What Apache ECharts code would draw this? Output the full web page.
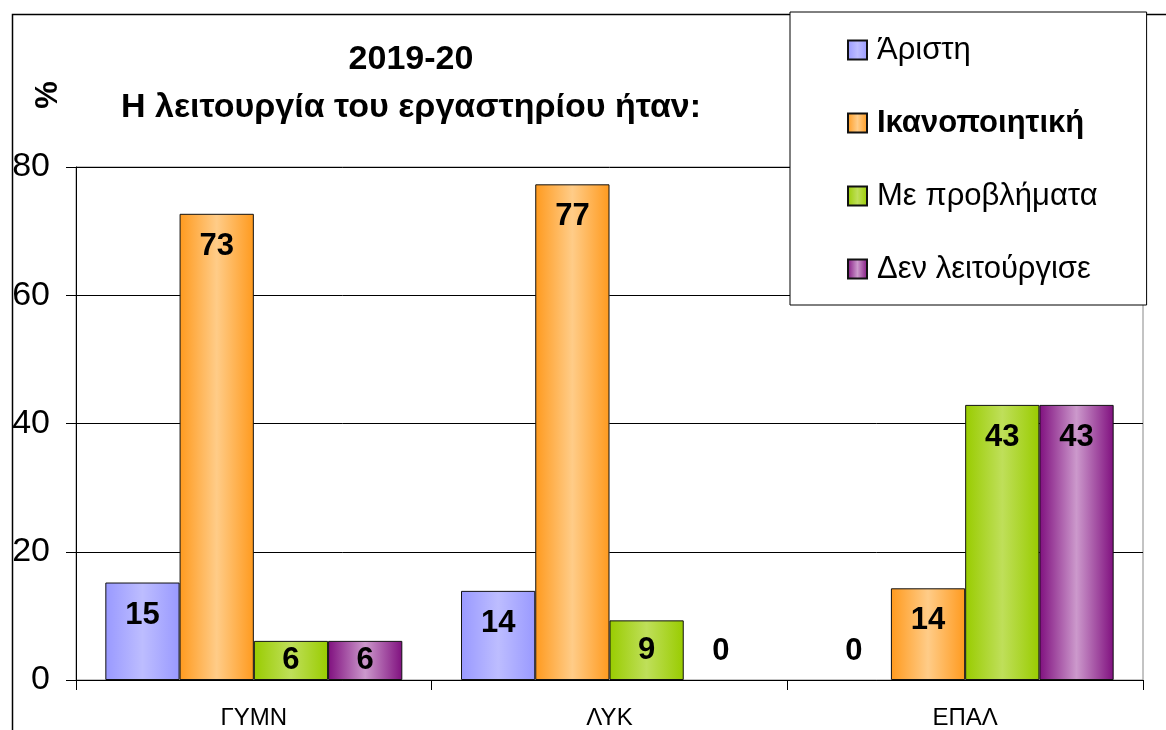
<!DOCTYPE html>
<html>
<head>
<meta charset="utf-8">
<script src="https://cdn.jsdelivr.net/npm/echarts@6/dist/echarts.min.js"></script>
<style>
  html, body { margin: 0; padding: 0; background: #fff; }
  #chart { width: 1166px; height: 730px; }
</style>
</head>
<body>
<div id="chart"></div>
<script>
  // κατηγορίες σχολείων
  var categories = ["ΓΥΜΝ", "ΛΥΚ", "ΕΠΑΛ"];
  var seriesNames = ["Άριστη", "Ικανοποιητική", "Με προβλήματα", "Δεν λειτούργισε"];
  var aristi = [15.2, 13.9, 0];
  var ikanopoiitiki = [72.7, 77.3, 14.3];
  var meProvlimata = [6.1, 9.3, 42.9];
  var denLeitourgise = [6.1, 0, 42.9];
  var yTicks = [0, 20, 40, 60, 80];

  var font = "'Liberation Sans', Arial, sans-serif";

  // χρώματα: άκρα / κέντρο
  var colors = [
    ["#9999ff", "#bdbdff"],
    ["#ff9a1e", "#ffcc88"],
    ["#99cc00", "#bfdf5a"],
    ["#80107f", "#cc99cc"]
  ];

  function grad(c) {
    return new echarts.graphic.LinearGradient(0, 0, 1, 0, [
      { offset: 0, color: c[0] },
      { offset: 0.5, color: c[1] },
      { offset: 1, color: c[0] }
    ]);
  }

  // θέση ετικέτας ανάλογα με το ύψος της μπάρας
  function items(vals) {
    return vals.map(function (v) {
      if (v === 0) {
        return { value: v, itemStyle: { borderWidth: 0 }, label: { position: "top", distance: 13 } };
      }
      if (v < 10) {
        return { value: v, label: { position: "inside" } };
      }
      return { value: v, label: { position: "insideTop", distance: 17 } };
    });
  }

  var allVals = [aristi, ikanopoiitiki, meProvlimata, denLeitourgise];

  var series = seriesNames.map(function (name, i) {
    return {
      name: name,
      type: "bar",
      barGap: "0%",
      barCategoryGap: "16.5%",
      data: items(allVals[i]),
      itemStyle: {
        color: grad(colors[i]),
        borderColor: "#111",
        borderWidth: 1
      },
      label: {
        show: true,
        color: "#000",
        fontFamily: font,
        fontWeight: "bold",
        fontSize: 31,
        formatter: function (p) { return Math.round(p.value); }
      }
    };
  });

  var myChart = echarts.init(document.getElementById("chart"));
  myChart.setOption({
    animation: false,
    backgroundColor: "#fff",
    title: {
      text: "2019-20\nΗ λειτουργία του εργαστηρίου ήταν:",
      left: 406,
      top: 31,
      textAlign: "center",
      textStyle: {
        fontFamily: font,
        fontWeight: "bold",
        fontSize: 34,
        lineHeight: 48,
        color: "#000"
      }
    },
    legend: {
      orient: "vertical",
      left: 790,
      top: 12,
      padding: [20, 49, 18, 57],
      itemWidth: 19,
      itemHeight: 19,
      itemGap: 37,
      icon: "rect",
      backgroundColor: "#fff",
      borderColor: "#000",
      borderWidth: 1,
      data: seriesNames,
      formatter: function (name) {
        return name === "Ικανοποιητική" ? "{b|" + name + "}" : name;
      },
      textStyle: {
        fontFamily: font,
        fontSize: 31,
        lineHeight: 36,
        color: "#000",
        padding: [0, 0, 0, 5],
        rich: {
          b: { fontFamily: font, fontSize: 31, fontWeight: "bold", color: "#000" }
        }
      }
    },
    grid: {
      left: 76,
      right: 23,
      top: 167,
      bottom: 50,
      show: true,
      borderColor: "#888",
      borderWidth: 1
    },
    xAxis: {
      type: "category",
      data: categories,
      axisLine: { lineStyle: { color: "#000", width: 1 } },
      axisTick: { show: true, length: 10, lineStyle: { color: "#000" } },
      axisLabel: {
        color: "#000",
        fontFamily: font,
        fontSize: 24,
        margin: 26
      }
    },
    yAxis: {
      type: "value",
      min: yTicks[0],
      max: yTicks[yTicks.length - 1],
      interval: 20,
      axisLine: { show: true, lineStyle: { color: "#000", width: 1 } },
      axisTick: { show: true, length: 10, lineStyle: { color: "#000" } },
      axisLabel: {
        color: "#000",
        fontFamily: font,
        fontSize: 34,
        margin: 26
      },
      splitLine: { lineStyle: { color: "#000", width: 1 } }
    },
    graphic: [
      {
        type: "rect",
        left: 10,
        top: 12,
        silent: true,
        shape: { width: 1200, height: 800 },
        style: { fill: "none", stroke: "#000", lineWidth: 1.5 }
      },
      {
        type: "text",
        x: 48,
        y: 95,
        rotation: Math.PI / 2,
        style: {
          text: "%",
          fontFamily: font,
          fontWeight: "bold",
          fontSize: 31,
          fill: "#000",
          align: "center",
          verticalAlign: "middle"
        }
      }
    ],
    series: series
  });
</script>
</body>
</html>
